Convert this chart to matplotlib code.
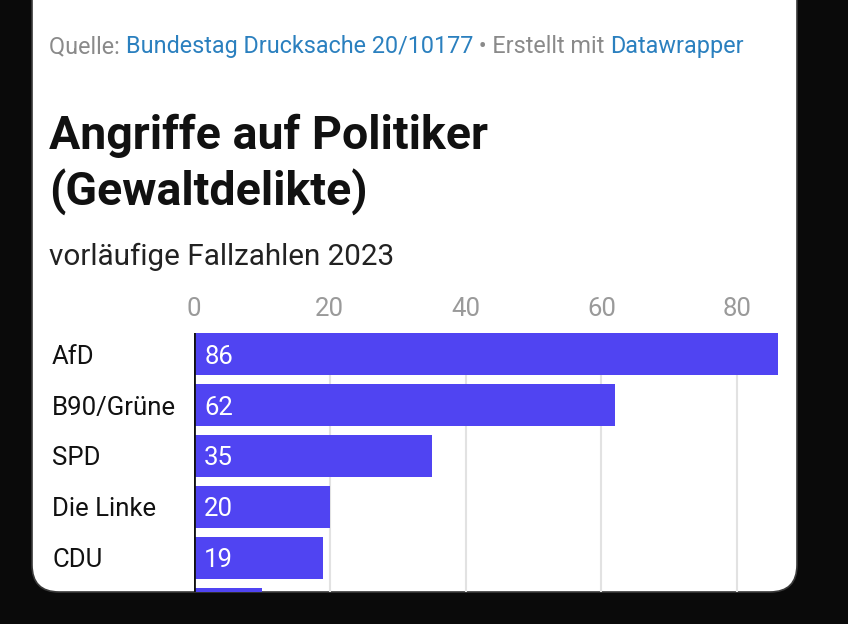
import matplotlib
matplotlib.use('Agg')
import matplotlib.pyplot as plt
from matplotlib.patches import FancyBboxPatch
from matplotlib.transforms import blended_transform_factory, Bbox, TransformedBbox

#-------------------------------------------------------------------------------
#DATA

parteien = ['AfD', 'B90/Grüne', 'SPD', 'Die Linke', 'CDU', 'FDP']
faelle = [86, 62, 35, 20, 19, 10]
ticks = [0, 20, 40, 60, 80]

quelle = [('Quelle: ', '#8a8a8a'),
          ('Bundestag Drucksache 20/10177', '#2b80bf'),
          (' • Erstellt mit ', '#8a8a8a'),
          ('Datawrapper', '#2b80bf')]

#-------------------------------------------------------------------------------
#SETUP

W, H = 848, 624
bar_col = '#5044f2'
plt.rcParams['font.family'] = ['Roboto', 'DejaVu Sans']

def fx(px):
    return px / W

def fy(py):
    return 1 - py / H

fig = plt.figure(figsize=(W / 100, H / 100), dpi=100)
fig.patch.set_facecolor('#0a0a0a')

#white card, its top runs out of the picture
card = FancyBboxPatch((fx(32), fy(592)), fx(797) - fx(32), 1.2,
                      boxstyle='round,pad=0,rounding_size=0.032',
                      transform=fig.transFigure, facecolor='white',
                      edgecolor='#3a3a3a', linewidth=1.2, mutation_aspect=W / H,
                      zorder=-10)
fig.patches.append(card)

#region inside the card, used to cut off the last row
card_box = TransformedBbox(Bbox([[fx(33), fy(591)], [fx(796), 1]]), fig.transFigure)

#-------------------------------------------------------------------------------
#TEXT

fig.canvas.draw()
r = fig.canvas.get_renderer()
xpos = fx(49)
for txt, col in quelle:
    t = fig.text(xpos, fy(53), txt, color=col, fontsize=16.8, va='baseline')
    xpos += t.get_window_extent(renderer=r).width / W

fig.text(fx(49), fy(149), 'Angriffe auf Politiker', fontsize=33.5,
         fontweight='bold', color='#111111', va='baseline')
fig.text(fx(49), fy(205), '(Gewaltdelikte)', fontsize=33.5,
         fontweight='bold', color='#111111', va='baseline')
fig.text(fx(49), fy(265), 'vorläufige Fallzahlen 2023', fontsize=21.3,
         color='#222222', va='baseline')

#-------------------------------------------------------------------------------
#PLOT

ax = fig.add_axes([fx(194), fy(592), fx(778) - fx(194), fy(333) - fy(592)])
ax.set_facecolor('none')
y = list(range(len(parteien)))
ax.barh(y, faelle, height=0.82, color=bar_col, zorder=2)
ax.set_xlim(0, 86)
ax.set_ylim(4.667, -0.412)
for v in ticks[1:]:
    ax.axvline(v, color='#e2e2e2', lw=1.5, zorder=1)
ax.axvline(0, color='#111111', lw=2, zorder=3)
for s in ax.spines.values():
    s.set_visible(False)
ax.set_xticks([])
ax.set_yticks([])

#axis numbers above the bars
tick_tr = blended_transform_factory(ax.transData, fig.transFigure)
for v in ticks:
    ax.text(v, fy(316), str(v), transform=tick_tr, fontsize=18.5,
            color='#9a9a9a', ha='center', va='baseline', clip_on=False)

#party names and values
lab_tr = blended_transform_factory(fig.transFigure, ax.transData)
for i, (p, v) in enumerate(zip(parteien, faelle)):
    t1 = ax.text(fx(52), i, p, transform=lab_tr, fontsize=18.5, color='#111111',
                 ha='left', va='center_baseline')
    t2 = ax.text(1.5, i, str(v), fontsize=18.5, color='white', ha='left',
                 va='center_baseline')
    for t in (t1, t2):
        t.set_clip_on(True)
        t.set_clip_box(card_box)

fig.savefig('out.png', dpi=100, facecolor=fig.get_facecolor())
